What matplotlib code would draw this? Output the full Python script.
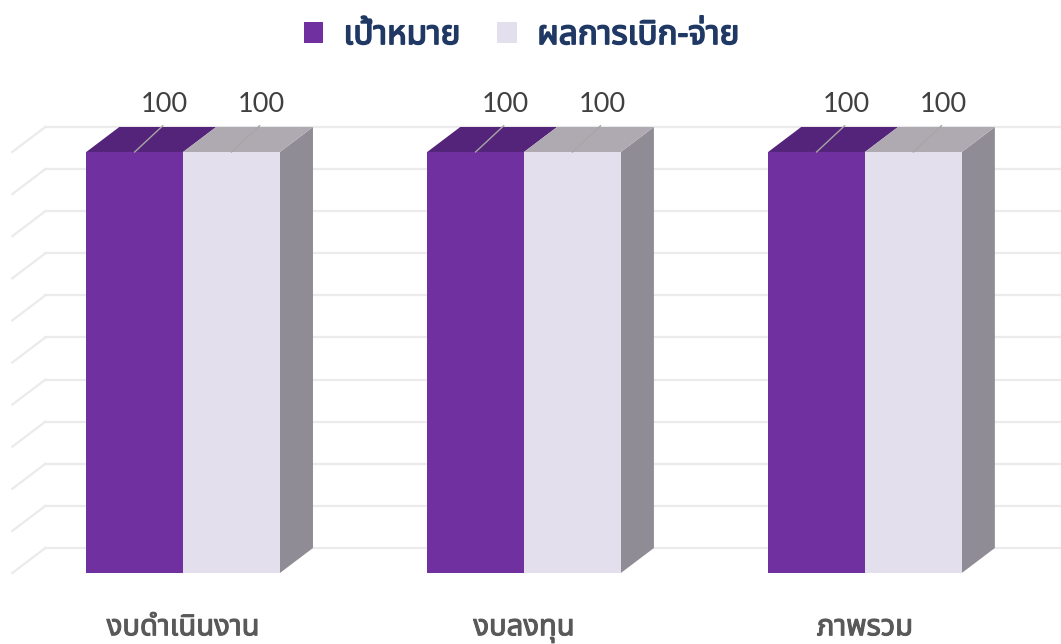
import matplotlib
matplotlib.use("Agg")
import matplotlib.pyplot as plt
import matplotlib.patheffects as pe
from matplotlib import font_manager
from matplotlib.ft2font import FT2Font
from matplotlib.patches import Polygon, Patch

# ข้อมูล
categories = ["งบดำเนินงาน", "งบลงทุน", "ภาพรวม"]
series_names = ["เป้าหมาย", "ผลการเบิก-จ่าย"]
target = [100, 100, 100]
spent = [100, 100, 100]
ticks = list(range(0, 101, 10))


# หาฟอนต์ที่มีอักษรไทย
def find_thai_font():
    preferred = ["Noto Sans Thai", "Noto Sans Thai UI", "Loma", "Garuda", "Sarabun", "Tahoma"]
    found = {}
    for f in font_manager.fontManager.ttflist:
        try:
            if 0x0E01 in FT2Font(f.fname).get_charmap():
                found.setdefault(f.name, f.fname)
        except Exception:
            pass
    for p in preferred:
        if p in found:
            return p
    if found:
        return sorted(found)[0]
    return "DejaVu Sans"


thai = find_thai_font()
plt.rcParams["font.family"] = [thai, "DejaVu Sans"]

purple = ["#7030A0", "#54237A"]  # หน้า, ด้านบน
light = ["#E4DFEC", "#AFAAB1"]
side = "#908C95"
grid_c = "#EBEBEB"


def bold(color, lw=1.0):
    return [pe.withStroke(linewidth=lw, foreground=color)]


fig = plt.figure(figsize=(10.61, 6.44), dpi=100)
ax = fig.add_axes([0, 0, 1, 1])
ax.set_xlim(-0.537, 2.575)
ax.set_ylim(-16.86, 136.1)
ax.axis("off")

w = 0.284      # ความกว้างแท่ง
dx = 0.097     # ความลึก
dy = 5.94
wall = -0.501

# เส้นกริดด้านหลัง
for t in ticks:
    ax.plot([wall, wall + dx], [t, t + dy], color=grid_c, lw=1.6, zorder=1)
    ax.plot([wall + dx, 2.575], [t + dy, t + dy], color=grid_c, lw=1.6, zorder=1)

for i, cat in enumerate(categories):
    for j, (vals, cols) in enumerate([(target, purple), (spent, light)]):
        x0 = i - w + j * w
        v = vals[i]
        ax.bar(x0, v, width=w, align="edge", color=cols[0], zorder=3)
        top = Polygon([(x0, v), (x0 + w, v), (x0 + w + dx, v + dy), (x0 + dx, v + dy)],
                      closed=True, facecolor=cols[1], edgecolor="none", zorder=3)
        ax.add_patch(top)
        xc = x0 + w / 2
        ax.plot([xc, xc + dx * 0.85], [v, v + dy * 1.05], color="#A6A6A6", lw=1, zorder=4)
        ax.text(xc + dx * 0.9, v + dy + 2.4, str(v), ha="center", va="bottom",
                fontsize=19.5, color="#404040", family=["Lato", "DejaVu Sans"], zorder=5)
    # ด้านข้าง
    xr = i + w
    vs = spent[i]
    sidep = Polygon([(xr, 0), (xr + dx, dy), (xr + dx, vs + dy), (xr, vs)],
                    closed=True, facecolor=side, edgecolor="none", zorder=2)
    ax.add_patch(sidep)
    ax.text(i, -13.0, cat, ha="center", va="center", fontsize=21,
            color="#595959", path_effects=bold("#595959", 0.8))

handles = [Patch(facecolor=purple[0], label=series_names[0]),
           Patch(facecolor=light[0], label=series_names[1])]
leg = fig.legend(handles=handles, loc="upper center", bbox_to_anchor=(0.4915, 1.017), ncol=2,
                 frameon=False, handlelength=0.58, handleheight=0.58, columnspacing=1.1,
                 handletextpad=0.62, prop={"size": 24})
for t in leg.get_texts():
    t.set_color("#1F3864")
    t.set_path_effects(bold("#1F3864", 1.2))

fig.savefig("out.png", dpi=100)
